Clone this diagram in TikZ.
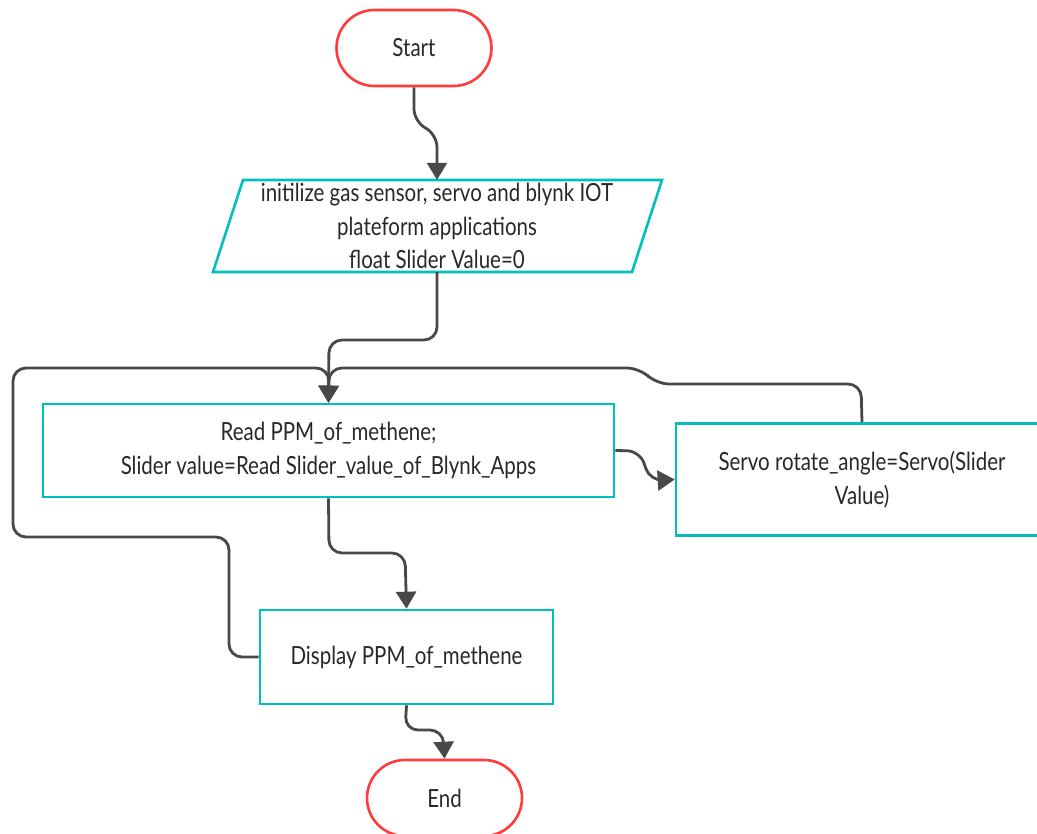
\documentclass[tikz,border=0pt]{standalone}
\usepackage{fontspec}
\setmainfont{Lato}
\newfontfamily\latonarrow[FakeStretch=0.82]{Lato}
\usetikzlibrary{arrows.meta}
\definecolor{tealc}{RGB}{0,191,191}
\definecolor{redc}{RGB}{255,60,60}
\definecolor{linec}{RGB}{72,72,72}
\definecolor{textc}{RGB}{40,40,40}
\tikzset{
  txt/.style={text=textc, font=\latonarrow\fontsize{25bp}{33.5bp}\selectfont, align=center},
  term/.style={txt, draw=redc, line width=2.6bp, rounded corners=38bp, minimum width=155bp, minimum height=76bp, fill=white},
  procbox/.style={txt, draw=tealc, line width=2.6bp, fill=white},
  conn/.style={draw=linec, line width=2.8bp, rounded corners=13bp, -{Triangle[width=20bp,length=17bp]}},
}
\begin{document}
\begin{tikzpicture}[x=1bp,y=-1bp]
\useasboundingbox (0,0) rectangle (1037,834);
\fill[white] (0,0) rectangle (1037,834);
\begin{scope}
\clip (0,0) rectangle (1037,834);
% nodes
\node[term] (start) at (414,48) {Start};
\draw[draw=tealc, line width=2.6bp, fill=white] (243,180) -- (662,180) -- (632,272) -- (213,272) -- cycle;
\node[txt, inner sep=0pt, minimum width=419bp, minimum height=92bp] (init) at (437,226) {initilize gas sensor, servo and blynk IOT\\plateform applications\\float Slider Value=0};
\node[procbox, minimum width=571bp, minimum height=93bp] (read) at (328.5,450.5) {Read PPM\_of\_methene;\\Slider value=Read Slider\_value\_of\_Blynk\_Apps};
\node[procbox, minimum width=372bp, minimum height=112bp] (servo) at (862,479.5) {Servo rotate\_angle=Servo(Slider\\Value)};
\node[procbox, minimum width=293bp, minimum height=94bp] (disp) at (406.5,657) {Display PPM\_of\_methene};
\node[term] (end) at (444.5,798) {End};
% connectors
\draw[conn] (start.south) -- (414,122) -- (437,134) -- (init.north);
\draw[conn] (437,272) -- (437,340) -- (329,340) -- (read.north);
\draw[conn] (disp.west) -- (229,657) -- (229,537) -- (13,537) -- (13,368) -- (329,368) -- (read.north);
\draw[conn] (servo.north) -- (861,384) -- (656,384) -- (640,368) -- (329,368) -- (read.north);
\draw[conn] (read.east) -- (640,451) -- (650,481) -- (servo.west);
\draw[conn] (read.south) -- (329,553) -- (405,553) -- (disp.north);
\draw[conn] (disp.south) -- (405,730) -- (443,730) -- (end.north);
\end{scope}
\end{tikzpicture}
\end{document}
